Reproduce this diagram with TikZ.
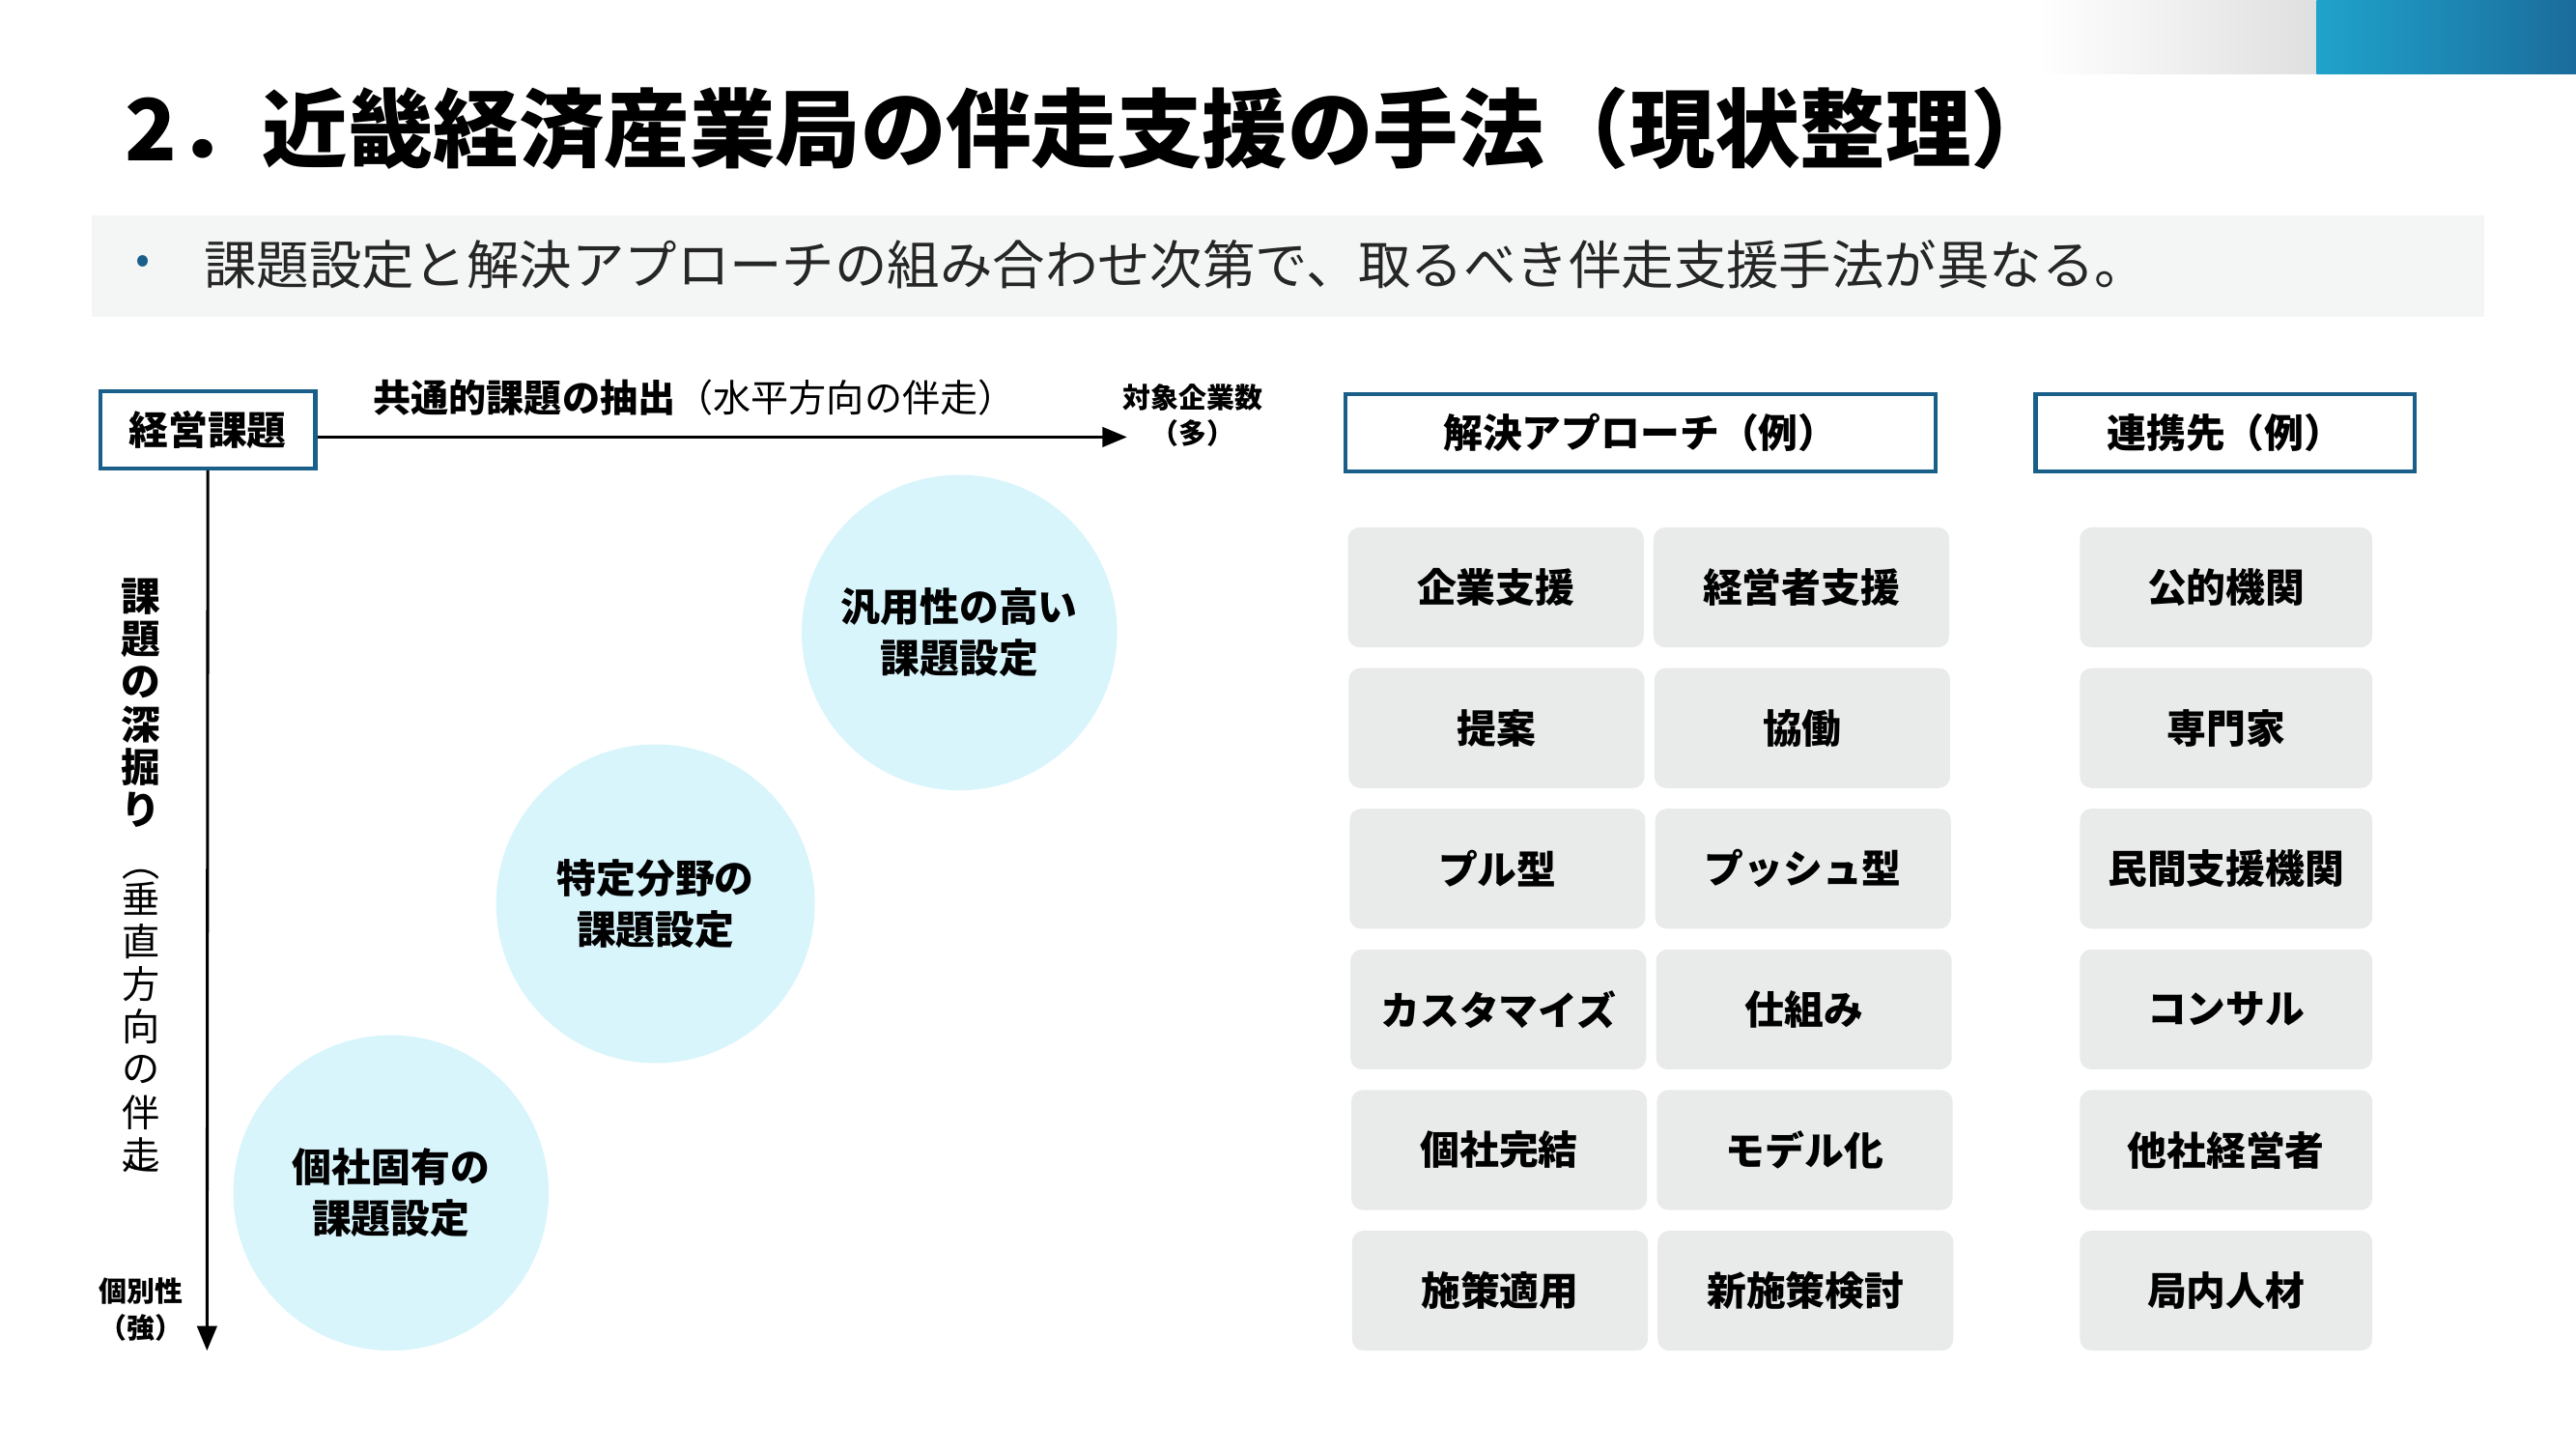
\documentclass[tikz,border=0pt]{standalone}
\usepackage{fontspec}
\setmainfont{Noto Sans CJK JP}
\usetikzlibrary{arrows.meta}
\definecolor{navy}{HTML}{1A5F8A}
\definecolor{cyanl}{HTML}{D9F5FC}
\definecolor{boxg}{HTML}{E9EAEA}
\definecolor{band}{HTML}{F4F5F5}
\definecolor{tealA}{HTML}{1FA3CB}
\definecolor{tealB}{HTML}{1B6C9C}
\tikzset{
 hdr/.style={draw=navy,line width=2.5pt,font=\bfseries\fontsize{24}{26}\selectfont,inner sep=0pt},
 gbox/.style={fill=boxg,rounded corners=7pt,minimum width=180pt,minimum height=73pt,font=\bfseries\fontsize{24}{26}\selectfont,inner sep=0pt},
 circ/.style={circle,fill=cyanl,inner sep=0pt,align=center,font=\bfseries\fontsize{24}{31}\selectfont},
 arr/.style={-{Triangle[length=15pt,width=12pt]},line width=1.8pt},
 vch/.style={font=\fontsize{23}{26}\selectfont,inner sep=0pt},
}
\begin{document}
\begin{tikzpicture}[x=1pt,y=-1pt]
\useasboundingbox (0,0) rectangle (1568,882);
\fill[white] (0,0) rectangle (1568,882);
\shade[left color=white,right color=gray!25] (1240,0) rectangle (1410,45);
\shade[left color=tealA,right color=tealB] (1410,0) rectangle (1568,45);
\node[anchor=west,inner sep=0pt,font=\bfseries\fontsize{52}{56}\selectfont] (title) at (76,78) {2．近畿経済産業局の伴走支援の手法（現状整理）};
\fill[band] (56,131) rectangle (1512,193);
\node[text=navy,font=\fontsize{26}{26}\selectfont] (bul) at (87,161) {•};
\node[anchor=west,inner sep=0pt,font=\fontsize{32}{34}\selectfont,text=black!85] (lead) at (124,161) {課題設定と解決アプローチの組み合わせ次第で、取るべき伴走支援手法が異なる。};
% axes
\node[hdr,minimum width=131pt,minimum height=47pt] (kk) at (126.5,261.5) {経営課題};
\coordinate (hx) at (686,266);
\draw[arr] (kk.east |- 0,266) -- (hx);
\node[anchor=west,inner sep=0pt,font=\fontsize{23}{24}\selectfont] (hl) at (227,242) {\textbf{共通的課題の抽出}（水平方向の伴走）};
\node[align=center,font=\bfseries\fontsize{17}{22}\selectfont,inner sep=0pt] (hm) at (726,253) {対象企業数\\（多）};
\coordinate (vy) at (126,822);
\draw[arr] (kk.south) -- (vy);
\foreach \c [count=\i] in {課,題,の,深,掘,り}
  \node[vch,font=\bfseries\fontsize{24}{26}\selectfont] (vb\i) at (86,{337+26*\i}) {\c};
\node[vch] (vp1) at (86,532) {︵};
\foreach \c [count=\i] in {垂,直,方,向,の,伴,走}
  \node[vch] (vn\i) at (86,{521+26*\i}) {\c};
\node[vch] (vp2) at (86,716) {︶};
\node[align=center,font=\bfseries\fontsize{17}{22}\selectfont,inner sep=0pt] (vm) at (86,797) {個別性\\（強）};
% circles
\node[circ,minimum size=192pt] (c1) at (584,385) {汎用性の高い\\課題設定};
\node[circ,minimum size=194pt] (c2) at (399,550) {特定分野の\\課題設定};
\node[circ,minimum size=192pt] (c3) at (238,726) {個社固有の\\課題設定};
% headers
\node[hdr,minimum width=359pt,minimum height=47pt] (h1) at (998.5,263.5) {解決アプローチ（例）};
\node[hdr,minimum width=231pt,minimum height=47pt] (h2) at (1354.5,263.5) {連携先（例）};
% boxes
\foreach \a/\b/\c [count=\i] in {企業支援/経営者支援/公的機関,提案/協働/専門家,プル型/プッシュ型/民間支援機関,カスタマイズ/仕組み/コンサル,個社完結/モデル化/他社経営者,施策適用/新施策検討/局内人材}{
  \pgfmathsetmacro{\yy}{357.5+85.6*(\i-1)}
  \node[gbox] (a\i) at ({910+0.5*\i},\yy) {\a};
  \node[gbox] (b\i) at ({1096+0.5*\i},\yy) {\b};
  \node[gbox,minimum width=178pt] (p\i) at (1355,\yy) {\c};
}
\end{tikzpicture}
\end{document}
